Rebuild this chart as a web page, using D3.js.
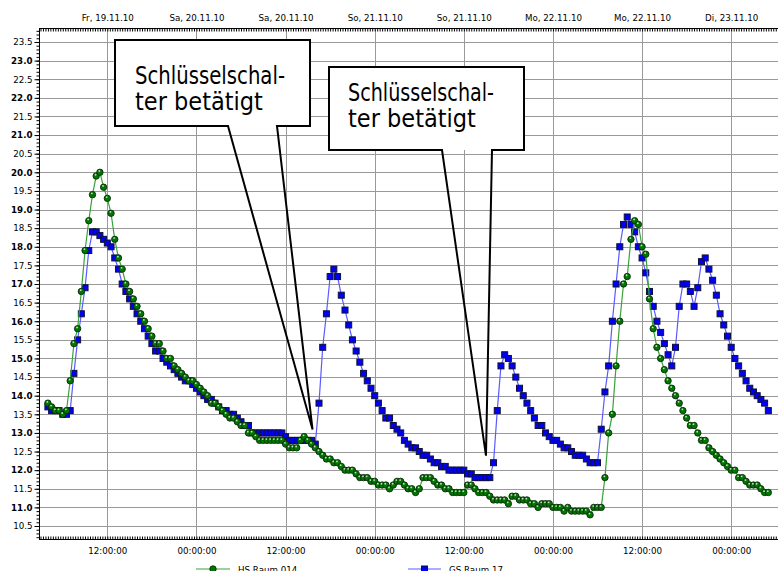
<!DOCTYPE html>
<html>
<head>
<meta charset="utf-8">
<script src="https://cdn.jsdelivr.net/npm/d3@7"></script>
<style>
  body { margin: 0; background: #fff; }
  svg { display: block; }
  text { font-family: "DejaVu Sans", Verdana, sans-serif; font-size: 8.7px; fill: #000; }
  .callout text { font-family: "Liberation Sans Narrow", "DejaVu Sans Condensed", sans-serif; font-size: 25px; }
</style>
</head>
<body>
<script>
// logger starts Fr 19.11.10 04:00, one value every 30 minutes
var startTime = new Date(2010, 10, 19, 4, 0);
var stepMinutes = 30;

// HS Raum 014 (green)
var hsRaum014 = [
  13.8, 13.7, 13.6, 13.6, 13.5, 13.6, 14.4, 15.4, 15.8, 16.8,
  17.9, 18.7, 19.4, 19.9, 20.0, 19.6, 19.3, 18.9, 18.2, 17.7,
  17.4, 17.0, 16.8, 16.6, 16.4, 16.2, 16.0, 15.8, 15.6, 15.4,
  15.4, 15.2, 15.0, 15.0, 14.8, 14.7, 14.6, 14.5, 14.4, 14.4,
  14.3, 14.2, 14.1, 14.0, 13.8, 13.8, 13.7, 13.6, 13.5, 13.4,
  13.4, 13.3, 13.2, 13.2, 13.0, 13.0, 12.9, 12.8, 12.8, 12.8,
  12.8, 12.8, 12.8, 12.8, 12.7, 12.6, 12.6, 12.6, 12.8, 12.9,
  12.8, 12.7, 12.6, 12.5, 12.4, 12.3, 12.3, 12.2, 12.2, 12.1,
  12.0, 12.0, 12.0, 11.9, 11.8, 11.8, 11.8, 11.7, 11.7, 11.6,
  11.6, 11.6, 11.5, 11.6, 11.7, 11.7, 11.6, 11.5, 11.5, 11.4,
  11.5, 11.8, 11.8, 11.8, 11.7, 11.6, 11.6, 11.5, 11.5, 11.4,
  11.4, 11.4, 11.4, 11.6, 11.6, 11.5, 11.4, 11.4, 11.4, 11.3,
  11.2, 11.2, 11.2, 11.2, 11.1, 11.3, 11.3, 11.2, 11.2, 11.2,
  11.1, 11.1, 11.0, 11.1, 11.1, 11.1, 11.0, 11.0, 11.0, 10.9,
  11.0, 10.9, 10.9, 10.9, 10.9, 10.9, 10.8, 11.0, 11.0, 11.0,
  11.8, 13.0, 13.5, 14.8, 16.0, 17.0, 17.2, 18.2, 18.7, 18.6,
  18.0, 17.8, 16.6, 15.8, 15.3, 15.0, 14.7, 14.4, 14.2, 14.0,
  13.8, 13.6, 13.4, 13.2, 13.2, 13.0, 12.8, 12.8, 12.6, 12.5,
  12.4, 12.3, 12.2, 12.1, 12.0, 12.0, 11.8, 11.8, 11.7, 11.6,
  11.6, 11.6, 11.5, 11.4, 11.4
];

// GS Raum 17 (blue)
var gsRaum17 = [
  13.7, 13.6, 13.6, 13.6, 13.5, 13.5, 13.6, 14.6, 15.5, 16.2,
  16.9, 17.9, 18.4, 18.4, 18.3, 18.2, 18.1, 18.0, 17.7, 17.4,
  17.0, 16.8, 16.6, 16.4, 16.2, 16.0, 15.8, 15.6, 15.4, 15.2,
  15.2, 15.0, 14.9, 14.8, 14.7, 14.6, 14.5, 14.4, 14.4, 14.3,
  14.2, 14.1, 14.0, 13.9, 13.9, 13.8, 13.7, 13.6, 13.6, 13.5,
  13.5, 13.4, 13.3, 13.2, 13.2, 13.0, 13.0, 13.0, 13.0, 13.0,
  13.0, 13.0, 13.0, 13.0, 12.9, 12.8, 12.8, 12.8, 12.8, 12.8,
  12.8, 12.8, 12.7, 13.8, 15.3, 16.2, 17.2, 17.4, 17.2, 16.7,
  16.3, 15.9, 15.5, 15.2, 14.9, 14.6, 14.4, 14.2, 14.0, 13.8,
  13.6, 13.4, 13.4, 13.2, 13.1, 13.0, 12.8, 12.7, 12.6, 12.6,
  12.5, 12.4, 12.4, 12.3, 12.2, 12.2, 12.1, 12.1, 12.0, 12.0,
  12.0, 12.0, 12.0, 11.9, 11.9, 11.8, 11.8, 11.8, 11.8, 11.8,
  12.2, 13.6, 14.8, 15.1, 15.0, 14.8, 14.5, 14.2, 14.0, 13.8,
  13.6, 13.4, 13.2, 13.2, 13.0, 12.9, 12.8, 12.8, 12.7, 12.6,
  12.6, 12.5, 12.4, 12.4, 12.4, 12.3, 12.2, 12.2, 12.2, 13.1,
  14.1, 14.8, 16.0, 17.0, 18.0, 18.6, 18.8, 18.6, 18.4, 18.0,
  17.7, 17.3, 16.8, 16.4, 16.0, 15.7, 15.4, 15.1, 14.8, 15.3,
  16.4, 17.0, 17.0, 16.8, 16.4, 16.9, 17.6, 17.7, 17.4, 17.1,
  16.7, 16.2, 15.9, 15.6, 15.3, 15.0, 14.8, 14.6, 14.4, 14.2,
  14.1, 14.0, 13.9, 13.8, 13.6
];

var seriesNames = ["HS Raum 014", "GS Raum 17"];
var yTicks = d3.range(10.5, 23.51, 0.5);
var weekdays = ["So", "Mo", "Di", "Mi", "Do", "Fr", "Sa"];
var calloutLines = ["Schlüsselschal-", "ter betätigt"];
// where the two callouts point to (time, value)
var calloutTargets = [
  { time: new Date(2010, 10, 20, 15, 38), value: 13.09 },
  { time: new Date(2010, 10, 21, 14, 59), value: 12.39 }
];

var svgWidth = 778;
var svgHeight = 571;
var plot = { left: 39, right: 777, top: 28, bottom: 539 };

var svg = d3.select("body").append("svg")
  .attr("width", svgWidth)
  .attr("height", svgHeight);

var times = hsRaum014.map((d, i) => d3.timeMinute.offset(startTime, i * stepMinutes));

var x = d3.scaleTime()
  .domain([new Date(2010, 10, 19, 2, 48), new Date(2010, 10, 23, 6, 10)])
  .range([plot.left, plot.right]);

var y = d3.scaleLinear()
  .domain([10.151, 23.876])
  .range([plot.bottom, plot.top]);

var majorTimes = x.ticks(d3.timeHour.every(12));

// grid
var grid = svg.append("g").attr("stroke", "#999").attr("stroke-width", 1);
grid.selectAll(".h").data(yTicks).join("line")
  .attr("x1", plot.left).attr("x2", svgWidth)
  .attr("y1", d => Math.round(y(d)) + 0.5).attr("y2", d => Math.round(y(d)) + 0.5);
grid.selectAll(".v").data(majorTimes).join("line")
  .attr("y1", plot.top).attr("y2", plot.bottom)
  .attr("x1", d => Math.round(x(d)) + 0.5).attr("x2", d => Math.round(x(d)) + 0.5);

// left axis
var leftMinor = svg.append("g")
  .attr("transform", `translate(${plot.left + 0.5},0)`)
  .call(d3.axisLeft(y).tickValues(d3.range(10.2, 23.85, 0.1)).tickSize(3).tickFormat(""));
leftMinor.select(".domain").remove();

var leftAxis = svg.append("g")
  .attr("transform", `translate(${plot.left + 0.5},0)`)
  .call(d3.axisLeft(y).tickValues(yTicks).tickSize(5).tickPadding(2).tickFormat(d3.format(".1f")));
leftAxis.select(".domain").attr("d", `M0,${plot.top}V${plot.bottom}`);
leftAxis.selectAll("text")
  .style("font-weight", d => (Math.abs(d - Math.round(d)) < 0.01 ? "bold" : "normal"));

// bottom axis
var bottomMinor = svg.append("g")
  .attr("transform", `translate(0,${plot.bottom + 0.5})`)
  .call(d3.axisBottom(x).ticks(d3.timeMinute.every(20)).tickSize(-3).tickFormat(""));
bottomMinor.select(".domain").remove();

var bottomAxis = svg.append("g")
  .attr("transform", `translate(0,${plot.bottom + 0.5})`)
  .call(d3.axisBottom(x).tickValues(majorTimes).tickSize(0).tickPadding(8)
    .tickFormat(d3.timeFormat("%H:%M:%S")));
bottomAxis.select(".domain").attr("d", `M${plot.left},0H${svgWidth}`);

// top axis
var topMinor = svg.append("g")
  .attr("transform", `translate(0,${plot.top + 0.5})`)
  .call(d3.axisTop(x).ticks(d3.timeMinute.every(20)).tickSize(-3).tickFormat(""));
topMinor.select(".domain").remove();

var dateFmt = d3.timeFormat("%d.%m.%y");
var topAxis = svg.append("g")
  .attr("transform", `translate(0,${plot.top + 0.5})`)
  .call(d3.axisTop(x).tickValues(majorTimes).tickSize(0).tickPadding(8)
    .tickFormat(d => weekdays[d.getDay()] + ", " + dateFmt(d)));
topAxis.select(".domain").attr("d", `M${plot.left},0H${svgWidth}`);

svg.selectAll(".domain").attr("stroke", "#000");
svg.selectAll(".tick line").attr("stroke", "#000");
svg.selectAll(".tick text").attr("fill", "#000");

// series
var lineFor = vals => d3.line()
  .x((d, i) => x(times[i]))
  .y(d => y(d))(vals);

var blue = svg.append("g");
blue.append("path")
  .attr("d", lineFor(gsRaum17))
  .attr("fill", "none").attr("stroke", "#5a5aff").attr("stroke-width", 1.2);
blue.selectAll("rect").data(gsRaum17).join("rect")
  .attr("x", (d, i) => x(times[i]) - 3)
  .attr("y", d => y(d) - 3)
  .attr("width", 6).attr("height", 6)
  .attr("fill", "#0000f5").attr("stroke", "#10103a").attr("stroke-width", 1);

var green = svg.append("g");
green.append("path")
  .attr("d", lineFor(hsRaum014))
  .attr("fill", "none").attr("stroke", "#3aa23a").attr("stroke-width", 1.2);
green.selectAll("circle.m").data(hsRaum014).join("circle")
  .attr("class", "m")
  .attr("cx", (d, i) => x(times[i]))
  .attr("cy", d => y(d))
  .attr("r", 3.2)
  .attr("fill", "#007800").attr("stroke", "#0a2a0a").attr("stroke-width", 0.9);
green.selectAll("circle.hl").data(hsRaum014).join("circle")
  .attr("class", "hl")
  .attr("cx", (d, i) => x(times[i]) - 0.6)
  .attr("cy", d => y(d) - 1.3)
  .attr("r", 0.9)
  .attr("fill", "#bfe3bf");

// callouts
var callouts = [
  { box: [115, 40, 310, 126], base: [228, 277], textX: 135, baseline: 84, width: 150 },
  { box: [329, 67, 524, 150], base: [442, 492], textX: 348, baseline: 101, width: 146 }
];
callouts.forEach(function(c, k) {
  var g = svg.append("g").attr("class", "callout");
  var b = c.box;
  var tip = [x(calloutTargets[k].time), y(calloutTargets[k].value)];
  g.append("rect")
    .attr("x", b[0]).attr("y", b[1])
    .attr("width", b[2] - b[0]).attr("height", b[3] - b[1])
    .attr("fill", "#fff");
  g.append("path")
    .attr("d", `M${c.base[0]},${b[3]}H${b[0]}V${b[1]}H${b[2]}V${b[3]}H${c.base[1]}L${tip[0]},${tip[1]}Z`)
    .attr("fill", "none").attr("stroke", "#000").attr("stroke-width", 2)
    .attr("stroke-linejoin", "miter");
  g.selectAll("text").data(calloutLines).join("text")
    .attr("x", c.textX)
    .attr("y", (d, i) => c.baseline + i * 26)
    .attr("textLength", (d, i) => i === 0 ? c.width : null)
    .attr("lengthAdjust", "spacingAndGlyphs")
    .text(d => d);
});

// legend (partly cut by the lower edge)
var legend = svg.append("g");
var legendItems = [
  { name: seriesNames[0], x0: 196, x1: 230, color: "#3aa23a", marker: "circle" },
  { name: seriesNames[1], x0: 408, x1: 441, color: "#5a5aff", marker: "rect" }
];
legendItems.forEach(function(it) {
  legend.append("line")
    .attr("x1", it.x0).attr("x2", it.x1).attr("y1", 569).attr("y2", 569)
    .attr("stroke", it.color).attr("stroke-width", 1.2);
  var mx = (it.x0 + it.x1) / 2;
  if (it.marker === "circle") {
    legend.append("circle").attr("cx", mx).attr("cy", 569).attr("r", 3.2)
      .attr("fill", "#007800").attr("stroke", "#0a2a0a").attr("stroke-width", 0.9);
  } else {
    legend.append("rect").attr("x", mx - 3).attr("y", 566).attr("width", 6).attr("height", 6)
      .attr("fill", "#0000f5").attr("stroke", "#10103a");
  }
  legend.append("text").attr("x", it.x1 + 8).attr("y", 573).text(it.name);
});
</script>
</body>
</html>
